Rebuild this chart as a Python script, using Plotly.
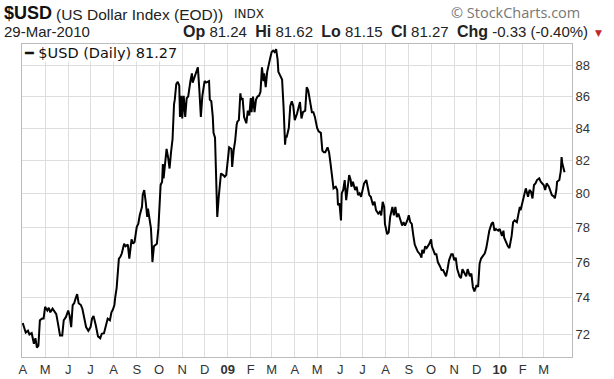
import plotly.graph_objects as go

# ---- data ($USD daily closes, Apr 2008 - Mar 2010) ----
dates = [
    "2008-04-01","2008-04-03","2008-04-05","2008-04-08","2008-04-10","2008-04-13","2008-04-16","2008-04-18",
    "2008-04-20","2008-04-22","2008-04-24","2008-04-27","2008-04-29",
    "2008-05-01","2008-05-04","2008-05-06","2008-05-08","2008-05-11","2008-05-13","2008-05-16","2008-05-18",
    "2008-05-21","2008-05-24","2008-05-26","2008-05-29",
    "2008-06-01","2008-06-03","2008-06-05","2008-06-07","2008-06-09","2008-06-11","2008-06-13","2008-06-15",
    "2008-06-18","2008-06-20","2008-06-22","2008-06-25","2008-06-28",
    "2008-07-01","2008-07-03","2008-07-05","2008-07-08","2008-07-11","2008-07-14","2008-07-16","2008-07-19",
    "2008-07-22","2008-07-24","2008-07-27","2008-07-29","2008-07-31",
    "2008-08-02","2008-08-03","2008-08-05","2008-08-08","2008-08-10","2008-08-12","2008-08-15","2008-08-17",
    "2008-08-20","2008-08-22","2008-08-25","2008-08-27","2008-08-29",
    "2008-09-01","2008-09-03","2008-09-05","2008-09-08","2008-09-09","2008-09-11","2008-09-13","2008-09-15",
    "2008-09-16","2008-09-18","2008-09-20","2008-09-21","2008-09-22","2008-09-24","2008-09-26","2008-09-28",
    "2008-09-30",
    "2008-10-01","2008-10-03","2008-10-05","2008-10-06","2008-10-07","2008-10-09","2008-10-11","2008-10-13",
    "2008-10-15","2008-10-17","2008-10-19","2008-10-21","2008-10-22","2008-10-24","2008-10-26","2008-10-28",
    "2008-10-29","2008-10-31",
    "2008-11-01","2008-11-03","2008-11-05","2008-11-07","2008-11-09","2008-11-12","2008-11-14","2008-11-15",
    "2008-11-17","2008-11-20","2008-11-22","2008-11-24","2008-11-26","2008-11-28",
    "2008-12-01","2008-12-03","2008-12-07","2008-12-08","2008-12-10","2008-12-12","2008-12-13","2008-12-15",
    "2008-12-16","2008-12-17","2008-12-18","2008-12-20","2008-12-22","2008-12-23","2008-12-26","2008-12-28",
    "2008-12-30",
    "2009-01-01","2009-01-03","2009-01-06","2009-01-07","2009-01-09","2009-01-11","2009-01-13","2009-01-14",
    "2009-01-16","2009-01-18","2009-01-19","2009-01-21","2009-01-23","2009-01-26","2009-01-28","2009-01-30",
    "2009-02-01","2009-02-02","2009-02-04","2009-02-06","2009-02-08","2009-02-10","2009-02-12","2009-02-14",
    "2009-02-16","2009-02-18","2009-02-19","2009-02-21","2009-02-23","2009-02-25","2009-02-27",
    "2009-03-01","2009-03-03","2009-03-05","2009-03-07","2009-03-09","2009-03-10","2009-03-12","2009-03-15",
    "2009-03-17","2009-03-18","2009-03-19","2009-03-20","2009-03-21","2009-03-23","2009-03-24","2009-03-26",
    "2009-03-28","2009-03-30",
    "2009-04-01","2009-04-04","2009-04-06","2009-04-08","2009-04-10","2009-04-12","2009-04-15","2009-04-17",
    "2009-04-19","2009-04-21","2009-04-23","2009-04-24","2009-04-26","2009-04-28",
    "2009-05-01","2009-05-03","2009-05-06","2009-05-08","2009-05-10","2009-05-12","2009-05-15","2009-05-17",
    "2009-05-19","2009-05-21","2009-05-23","2009-05-26","2009-05-28","2009-05-29","2009-05-31",
    "2009-06-02","2009-06-03","2009-06-05","2009-06-07","2009-06-09","2009-06-11","2009-06-13","2009-06-15",
    "2009-06-16","2009-06-18","2009-06-21","2009-06-23","2009-06-25","2009-06-27","2009-06-29",
    "2009-07-01","2009-07-03","2009-07-06","2009-07-08","2009-07-10","2009-07-12","2009-07-15","2009-07-17",
    "2009-07-19","2009-07-22","2009-07-24","2009-07-26","2009-07-28","2009-07-30","2009-07-31",
    "2009-08-03","2009-08-05","2009-08-07","2009-08-10","2009-08-12","2009-08-14","2009-08-16","2009-08-18",
    "2009-08-21","2009-08-23","2009-08-25","2009-08-27","2009-08-30",
    "2009-09-01","2009-09-03","2009-09-05","2009-09-07","2009-09-09","2009-09-11","2009-09-13","2009-09-16",
    "2009-09-18","2009-09-19","2009-09-21","2009-09-23","2009-09-25","2009-09-28","2009-09-30",
    "2009-10-01","2009-10-02","2009-10-04","2009-10-06","2009-10-08","2009-10-10","2009-10-13","2009-10-15",
    "2009-10-17","2009-10-19","2009-10-21","2009-10-23","2009-10-25","2009-10-28","2009-10-30",
    "2009-11-01","2009-11-03","2009-11-05","2009-11-08","2009-11-10","2009-11-12","2009-11-15","2009-11-17",
    "2009-11-19","2009-11-22","2009-11-24","2009-11-26","2009-11-28",
    "2009-12-01","2009-12-03","2009-12-05","2009-12-07","2009-12-10","2009-12-12","2009-12-14","2009-12-16",
    "2009-12-18","2009-12-21","2009-12-23","2009-12-25","2009-12-27","2009-12-30",
    "2010-01-01","2010-01-04","2010-01-06","2010-01-07","2010-01-10","2010-01-12","2010-01-14","2010-01-17",
    "2010-01-19","2010-01-21","2010-01-24","2010-01-26","2010-01-28","2010-01-29",
    "2010-02-01","2010-02-03","2010-02-05","2010-02-08","2010-02-10","2010-02-12","2010-02-14","2010-02-16",
    "2010-02-18","2010-02-20","2010-02-23","2010-02-25","2010-02-27",
    "2010-03-01","2010-03-03","2010-03-05","2010-03-08","2010-03-10","2010-03-12","2010-03-15","2010-03-16",
    "2010-03-18","2010-03-19","2010-03-22","2010-03-24","2010-03-25","2010-03-26","2010-03-29",
]

closes = [
    72.62,72.30,72.10,72.20,72.00,72.07,71.50,71.80,71.30,71.40,72.77,72.86,72.86,
    73.50,73.30,73.45,73.20,73.40,73.30,73.10,72.65,71.95,71.95,72.77,72.95,
    73.30,73.00,72.40,73.60,73.70,73.97,74.20,73.70,73.60,73.40,73.00,72.40,72.20,
    72.40,72.86,73.00,72.50,71.90,71.80,72.04,72.07,72.60,72.86,72.77,73.20,73.35,
    73.60,74.00,74.55,76.20,76.30,76.50,77.05,76.90,77.00,76.20,77.30,77.05,77.15,
    78.03,78.20,78.70,79.20,79.90,80.20,79.50,78.60,79.10,78.50,77.95,77.15,76.00,76.90,77.00,77.05,77.95,
    79.10,80.50,80.70,81.77,80.90,81.77,82.70,82.20,81.50,82.50,83.30,85.50,85.80,86.80,86.95,86.70,84.70,86.05,
    84.60,86.05,84.70,85.90,86.00,87.00,87.50,86.90,87.20,87.60,87.90,86.40,84.70,86.05,
    87.00,86.90,87.00,85.80,85.70,84.70,83.70,83.40,81.80,80.20,78.60,79.80,81.00,81.20,81.10,81.00,81.10,
    81.80,82.80,82.70,81.60,82.60,83.20,84.20,84.40,84.50,86.20,85.80,85.90,84.70,84.30,85.10,84.80,
    85.90,85.00,86.00,85.00,85.80,86.00,86.05,86.30,87.90,87.00,87.50,86.60,87.60,88.15,88.50,
    88.90,89.00,88.90,89.10,88.40,87.60,87.40,87.10,85.30,83.80,82.96,83.50,83.40,83.80,84.00,85.40,85.70,85.40,
    84.50,84.90,85.30,85.65,84.60,85.00,85.10,86.60,86.40,85.80,85.40,85.00,85.00,84.70,
    84.00,83.80,83.70,82.60,82.50,82.50,82.80,82.50,81.80,81.10,80.30,80.40,80.20,79.30,79.40,
    78.40,80.00,80.20,80.80,79.60,80.60,81.10,80.80,80.40,80.70,80.20,80.40,79.90,80.00,79.80,
    80.20,80.60,80.80,80.40,79.90,79.80,79.30,79.50,79.00,78.80,78.90,78.70,79.50,79.20,78.20,
    77.60,77.70,78.60,79.20,78.70,79.20,78.60,78.80,78.40,78.10,78.30,78.10,78.40,
    78.70,78.30,78.20,77.55,77.00,76.80,76.60,76.45,76.25,76.70,76.50,76.90,76.80,77.00,77.20,
    77.30,76.90,76.60,76.45,76.45,76.00,75.75,75.55,75.55,75.35,75.20,75.60,76.10,76.45,76.45,
    76.10,76.25,75.60,75.20,75.10,75.60,75.35,75.20,75.60,75.20,75.35,74.60,74.35,
    74.70,74.60,75.90,76.20,76.35,76.50,76.80,77.30,77.80,78.20,78.30,77.80,77.90,77.80,
    77.90,77.50,77.80,77.40,77.05,76.90,76.80,77.50,78.30,78.40,78.30,78.70,79.20,79.00,
    79.50,80.00,80.30,79.80,80.20,80.10,79.70,80.50,80.60,80.80,80.90,80.70,80.60,
    80.50,80.20,80.60,80.40,80.10,79.90,79.80,79.70,80.20,80.70,80.80,81.35,82.20,81.80,81.27,
]

month_starts = [
    "2008-04-01","2008-05-01","2008-06-01","2008-07-01","2008-08-01","2008-09-01","2008-10-01","2008-11-01",
    "2008-12-01","2009-01-01","2009-02-01","2009-03-01","2009-04-01","2009-05-01","2009-06-01","2009-07-01",
    "2009-08-01","2009-09-01","2009-10-01","2009-11-01","2009-12-01","2010-01-01","2010-02-01","2010-03-01",
]
month_labels = ["A","M","J","J","A","S","O","N","D","<b>09</b>","F","M",
                "A","M","J","J","A","S","O","N","D","<b>10</b>","F","M"]
y_ticks = [72, 74, 76, 78, 80, 82, 84, 86, 88]

title_symbol = "$USD"
title_name = "(US Dollar Index (EOD))"
title_exchange = "INDX"
last_date = "29-Mar-2010"
quote_labels = ["Op", "Hi", "Lo", "Cl", "Chg"]
quote_values = ["81.24", "81.62", "81.15", "81.27", "-0.33 (-0.40%)"]
legend_text = "$USD (Daily) 81.27"

# ---- figure ----
W, H = 614, 379
ML, MR, MT, MB = 22, 42, 44, 22
PW, PH = W - ML - MR, H - MT - MB

def px(x):
    return (x - ML) / PW

def py(y):
    return (H - MB - y) / PH

fig = go.Figure()
fig.add_trace(go.Scatter(
    x=dates, y=closes, mode="lines",
    line=dict(color="black", width=2),
    hoverinfo="skip", showlegend=False,
))

grid = "#dedede"
fig.update_layout(
    width=W, height=H,
    margin=dict(l=ML, r=MR, t=MT, b=MB, pad=0, autoexpand=False),
    paper_bgcolor="white", plot_bgcolor="white",
    font=dict(family="Liberation Sans, Arial, sans-serif", color="#222"),
    xaxis=dict(
        type="date", automargin=False,
        range=["2008-03-31", "2010-04-08"],
        tickvals=month_starts, ticktext=month_labels,
        tickfont=dict(size=13, color="#333"),
        showgrid=True, gridcolor=grid, gridwidth=1,
        showline=True, linecolor="#bbbbbb", linewidth=1, mirror=True,
        ticks="", zeroline=False,
    ),
    yaxis=dict(
        type="log", side="right", automargin=False,
        range=[1.85003, 1.95153],
        tickvals=y_ticks, ticktext=[str(v) for v in y_ticks],
        tickfont=dict(size=13, color="#333"),
        showgrid=True, gridcolor=grid, gridwidth=1,
        showline=True, linecolor="#bbbbbb", linewidth=1, mirror=True,
        ticks="", zeroline=False,
    ),
)

quote_parts = []
for lab, val in zip(quote_labels, quote_values):
    quote_parts.append("<span style='font-size:16px'><b>" + lab + "</b></span> " + val)
quote_line = "\u00a0 ".join(quote_parts)

ann = []
ann.append(dict(x=px(2), y=py(13), xref="paper", yref="paper", xanchor="left", yanchor="middle",
                text="<b>" + title_symbol + "</b>", showarrow=False,
                font=dict(size=18, family="Liberation Sans, Arial", color="#111")))
ann.append(dict(x=px(54), y=py(14), xref="paper", yref="paper", xanchor="left", yanchor="middle",
                text=title_name, showarrow=False,
                font=dict(size=15.5, family="Liberation Sans, Arial", color="#222")))
ann.append(dict(x=px(232), y=py(14), xref="paper", yref="paper", xanchor="left", yanchor="middle",
                text=title_exchange, showarrow=False,
                font=dict(size=12, family="DejaVu Sans, Verdana", color="#222")))
ann.append(dict(x=px(582), y=py(13), xref="paper", yref="paper", xanchor="right", yanchor="middle",
                text="© StockCharts.com", showarrow=False,
                font=dict(size=14.5, family="Open Sans, Liberation Sans", color="#777")))
ann.append(dict(x=px(2), y=py(32), xref="paper", yref="paper", xanchor="left", yanchor="middle",
                text=last_date, showarrow=False,
                font=dict(size=15, family="Liberation Sans, Arial", color="#222")))
ann.append(dict(x=px(590), y=py(32), xref="paper", yref="paper", xanchor="right", yanchor="middle",
                text=quote_line, showarrow=False,
                font=dict(size=15, family="Liberation Sans, Arial", color="#222")))
ann.append(dict(x=px(598), y=py(33), xref="paper", yref="paper", xanchor="center", yanchor="middle",
                text="▼", showarrow=False,
                font=dict(size=9, family="DejaVu Sans", color="#c0282d")))
ann.append(dict(x=px(23), y=1, xref="paper", yref="paper", xanchor="left", yanchor="top",
                text="<b>━</b> " + legend_text, showarrow=False, bgcolor="white",
                borderpad=0,
                font=dict(size=14.5, family="DejaVu Sans, Verdana", color="#111")))
fig.update_layout(annotations=ann)

fig.write_html(
    "out.html",
    config={"displayModeBar": False, "staticPlot": True},
    post_script="document.body.style.margin='0';document.body.style.padding='0';",
)
